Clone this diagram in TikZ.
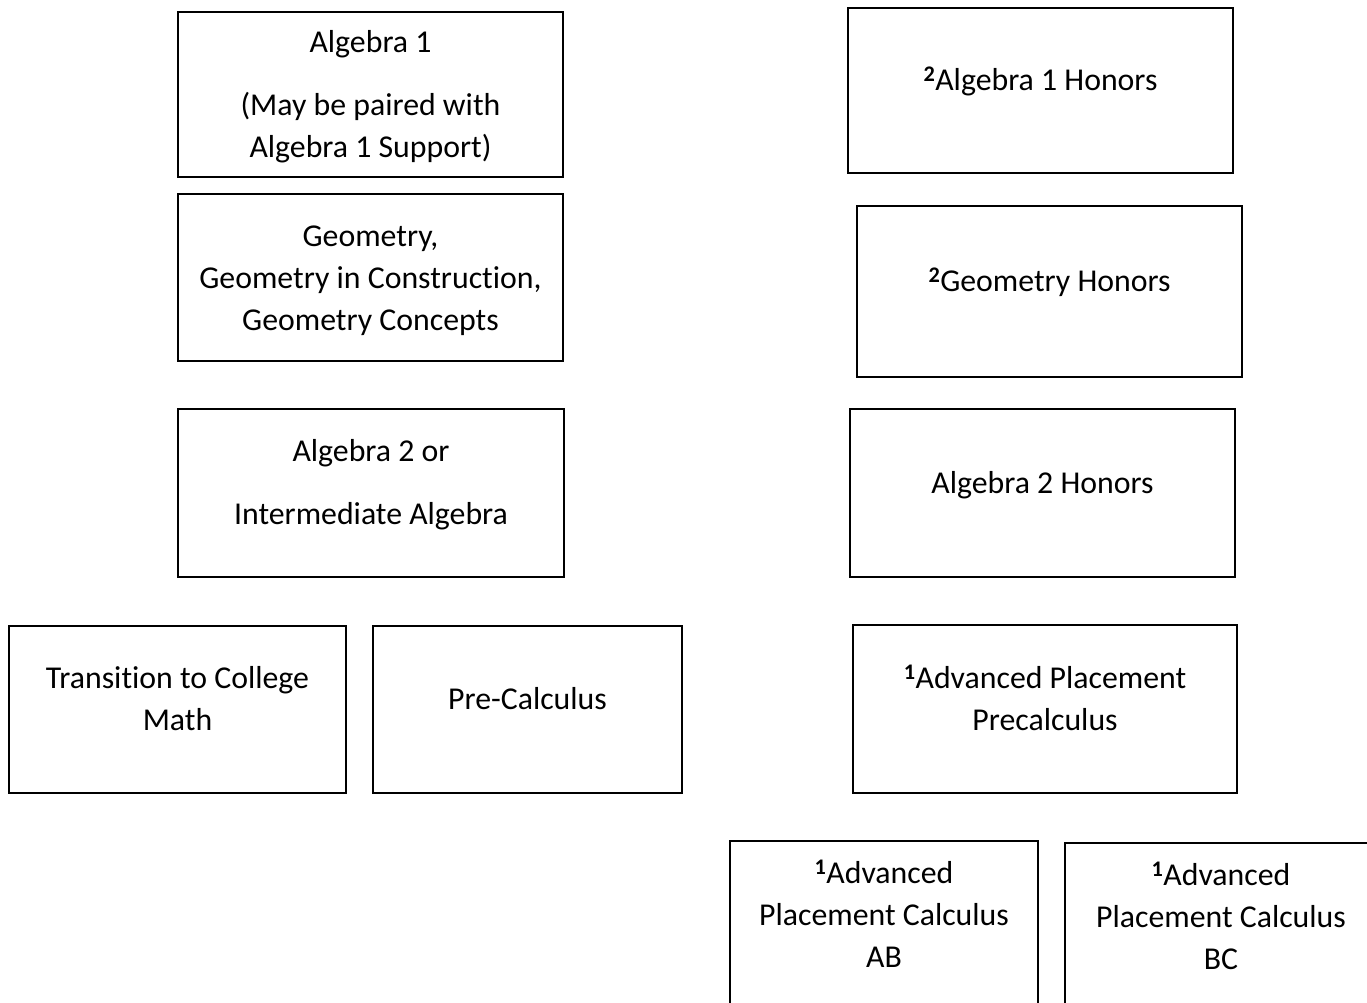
\documentclass[tikz,border=0pt]{standalone}
\usepackage{fontspec}
\setmainfont[Ligatures=NoCommon]{Carlito}
\usepackage{tikz}
\tikzstyle{coursebox}=[rectangle,draw=black,fill=white,line width=1.2pt,
                       inner sep=0pt,font=\fontsize{31.8}{42}\selectfont]
\newcommand\courselabel[2][-2.5pt]{\raisebox{#1}[\height][\depth]{\begin{tabular}{@{}c@{}}#2\end{tabular}}}
\newcommand\fnmark[1]{\textsuperscript{\textbf{#1}}}
\newcommand\textshift{8pt}

\begin{document}
\begin{tikzpicture}[x=1pt,y=-1pt]
    \useasboundingbox (0,0) rectangle (1367,1003);
    \node [coursebox,minimum width=385pt,minimum height=165pt] (Algebra 1) at (370.5,94.5) {
        \courselabel{Algebra 1\\[21pt] (May be paired with\\ Algebra 1 Support)}
    };
    \node [coursebox,minimum width=385pt,minimum height=165pt] (Algebra 1 Honors) at (1040.5,90.5) {
        \courselabel[\textshift]{\fnmark{2}Algebra 1 Honors}
    };
    \node [coursebox,minimum width=385pt,minimum height=167pt] (Geometry) at (370.5,277.5) {
        \courselabel{Geometry,\\ Geometry in Construction,\\ Geometry Concepts}
    };
    \node [coursebox,minimum width=385pt,minimum height=171pt] (Geometry Honors) at (1049.5,291.5) {
        \courselabel[\textshift]{\fnmark{2}Geometry Honors}
    };
    \node [coursebox,minimum width=386pt,minimum height=168pt] (Algebra 2) at (371,493) {
        \courselabel[\textshift]{Algebra 2 or\\[21pt] Intermediate Algebra}
    };
    \node [coursebox,minimum width=385pt,minimum height=168pt] (Algebra 2 Honors) at (1042.5,493) {
        \courselabel[\textshift]{Algebra 2 Honors}
    };
    \node [coursebox,minimum width=337pt,minimum height=167pt] (Transition) at (177.5,709.5) {
        \courselabel[\textshift]{Transition to College\\ Math}
    };
    \node [coursebox,minimum width=309pt,minimum height=167pt] (Pre-Calculus) at (527.5,709.5) {
        \courselabel[\textshift]{Pre-Calculus}
    };
    \node [coursebox,minimum width=384pt,minimum height=168pt] (AP Precalculus) at (1045,709) {
        \courselabel[\textshift]{\fnmark{1}Advanced Placement\\ Precalculus}
    };
    \node [coursebox,minimum width=308pt,minimum height=168pt] (AP Calculus AB) at (884,925) {
        \courselabel[\textshift]{\fnmark{1}Advanced\\ Placement Calculus\\ AB}
    };
    \node [coursebox,minimum width=312pt,minimum height=168pt] (AP Calculus BC) at (1221,927) {
        \courselabel[\textshift]{\fnmark{1}Advanced\\ Placement Calculus\\ BC}
    };
\end{tikzpicture}
\end{document}
